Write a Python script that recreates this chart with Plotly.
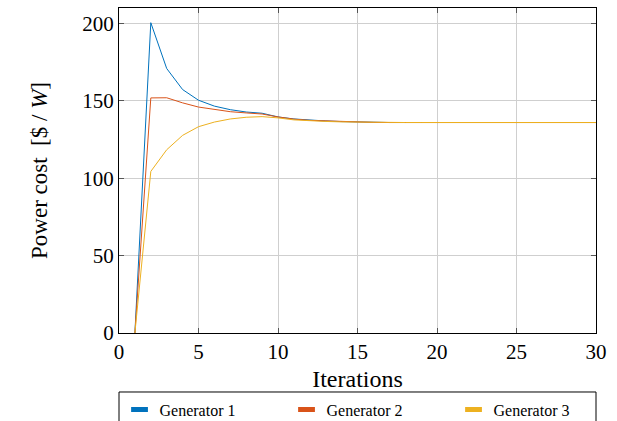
import plotly.graph_objects as go

iterations = list(range(1, 31))
gen1 = [0, 200.5, 170.9, 157.3, 150.4, 146.6, 144.3, 142.8, 142.0, 139.6, 138.3, 137.5, 137.0, 136.6, 136.3,
        136.1, 136.0, 136.0, 136.0, 136.0, 136.0, 136.0, 136.0, 136.0, 136.0, 136.0, 136.0, 136.0, 136.0, 136.0]
gen2 = [0, 151.9, 152.0, 148.7, 146.0, 144.3, 143.0, 142.2, 141.5, 139.6, 138.2, 137.4, 137.0, 136.6, 136.3,
        136.1, 136.0, 136.0, 136.0, 136.0, 136.0, 136.0, 136.0, 136.0, 136.0, 136.0, 136.0, 136.0, 136.0, 136.0]
gen3 = [0, 104.4, 118.4, 127.7, 133.3, 136.3, 138.3, 139.4, 139.8, 139.0, 137.7, 137.1, 136.7, 136.4, 136.2,
        136.1, 136.0, 136.0, 136.0, 136.0, 136.0, 136.0, 136.0, 136.0, 136.0, 136.0, 136.0, 136.0, 136.0, 136.0]
names = ["Generator 1", "Generator 2", "Generator 3"]
colors = ["#0072BD", "#D95319", "#EDB120"]
x_ticks = [0, 5, 10, 15, 20, 25, 30]
y_ticks = [0, 50, 100, 150, 200]

FONT = "Liberation Serif"
fig = go.Figure()
for name, ys, c in zip(names, [gen1, gen2, gen3], colors):
    fig.add_trace(go.Scatter(x=iterations, y=ys, mode="lines", line=dict(color=c, width=1),
                             showlegend=False, name=name))
for name, c in zip(names, colors):
    fig.add_trace(go.Scatter(x=[None], y=[None], mode="markers",
                             marker=dict(symbol="line-ew", size=12, color=c, line=dict(color=c, width=6)),
                             name=name, showlegend=True))

axis_common = dict(showline=True, linecolor="black", linewidth=1, mirror="ticks",
                   ticks="inside", ticklen=5, tickcolor="#555555", tickwidth=1,
                   showgrid=True, gridcolor="#cfcfcf", gridwidth=1, zeroline=False,
                   automargin=False,
                   tickfont=dict(family=FONT, size=21, color="black"))
fig.update_xaxes(range=[0, 30], tickvals=x_ticks,
                 title=dict(text="Iterations", font=dict(family=FONT, size=24, color="black"), standoff=6),
                 **axis_common)
fig.update_yaxes(range=[0, 210], tickvals=y_ticks,
                 title=dict(text="Power cost  [$ / <i>W</i>]", font=dict(family=FONT, size=23, color="black"), standoff=28),
                 **axis_common)

# legend frame drawn as a shape spanning the plot width
fig.add_shape(type="rect", xref="paper", yref="paper", x0=0, x1=1, y0=-0.40, y1=-0.1815,
              line=dict(color="black", width=1), fillcolor="rgba(0,0,0,0)", layer="above")

fig.update_layout(
    width=617, height=421,
    margin=dict(l=119, r=21, t=8, b=88, autoexpand=False),
    paper_bgcolor="white", plot_bgcolor="white",
    font=dict(family=FONT, size=12, color="black"),
    legend=dict(orientation="h", x=-0.001, xanchor="left", y=-0.18, yanchor="top",
                bordercolor="rgba(0,0,0,0)", borderwidth=1, bgcolor="rgba(0,0,0,0)",
                entrywidth=122, itemwidth=30,
                font=dict(family=FONT, size=16, color="black"), tracegroupgap=0),
)
fig.write_html("out.html", config={"displayModeBar": False},
               post_script="document.body.style.margin='0';")
